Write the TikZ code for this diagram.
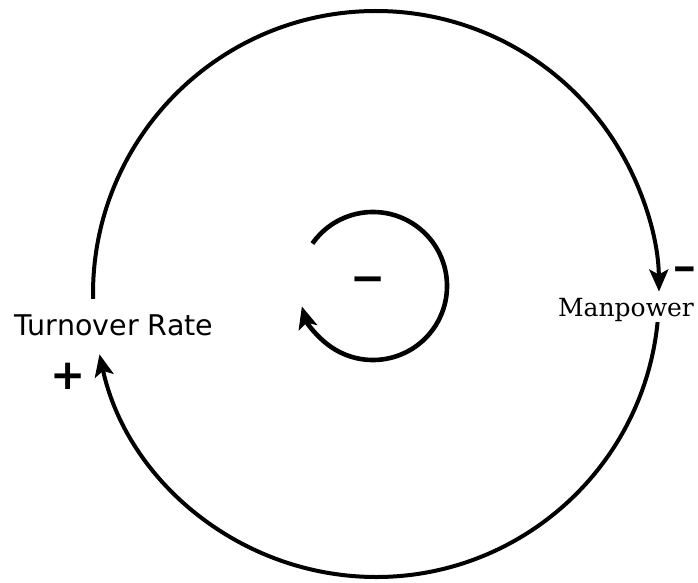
\documentclass[tikz,border=0pt]{standalone}
\usepackage{fontspec}
\usetikzlibrary{calc,arrows.meta}
\newfontfamily\rateface{DejaVu Sans}
\newfontfamily\powerface{DejaVu Serif}
\newfontfamily\signface{DejaVu Sans Bold}

\begin{document}
\begin{tikzpicture}[x=1pt, y=1pt,
  link/.style={line width=4pt, -{Stealth[length=22pt, width=19pt, inset=5pt]}},
  lab/.style={inner sep=0pt, anchor=base},
  signlab/.style={inner sep=0pt, font=\signface\fontsize{42}{42}\selectfont}]
\useasboundingbox (0,0) rectangle (698,582);

% the two variables on the outer loop
\coordinate (c) at (376,288);
\node[lab, font=\rateface\fontsize{28.5}{34}\selectfont] (rate) at (114,247) {Turnover Rate};
\node[lab, font=\powerface\fontsize{25}{30}\selectfont] (power) at (626,266) {Manpower};
\coordinate (rate-top) at ($(c)+(181:283)$);
\coordinate (power-bot) at ($(c)+(-5.7:283)$);

\draw[link] (rate-top) arc[start angle=181, end angle=0.5, radius=283];
\draw[link] (power-bot) arc[start angle=-5.7, end angle=-167.7, radius=283];

% inner loop
\coordinate (s) at (373,296);
\coordinate (inner-start) at ($(s)+(145:74)$);
\draw[link, line width=4.6pt] (inner-start) arc[start angle=145, end angle=-164, radius=74];

\node[signlab] (loopsign) at (368,297) {−};
\node[signlab, xscale=0.7] (powersign) at (684.5,307) {−};
\node[signlab] (ratesign) at (68,206) {+};
\end{tikzpicture}
\end{document}
